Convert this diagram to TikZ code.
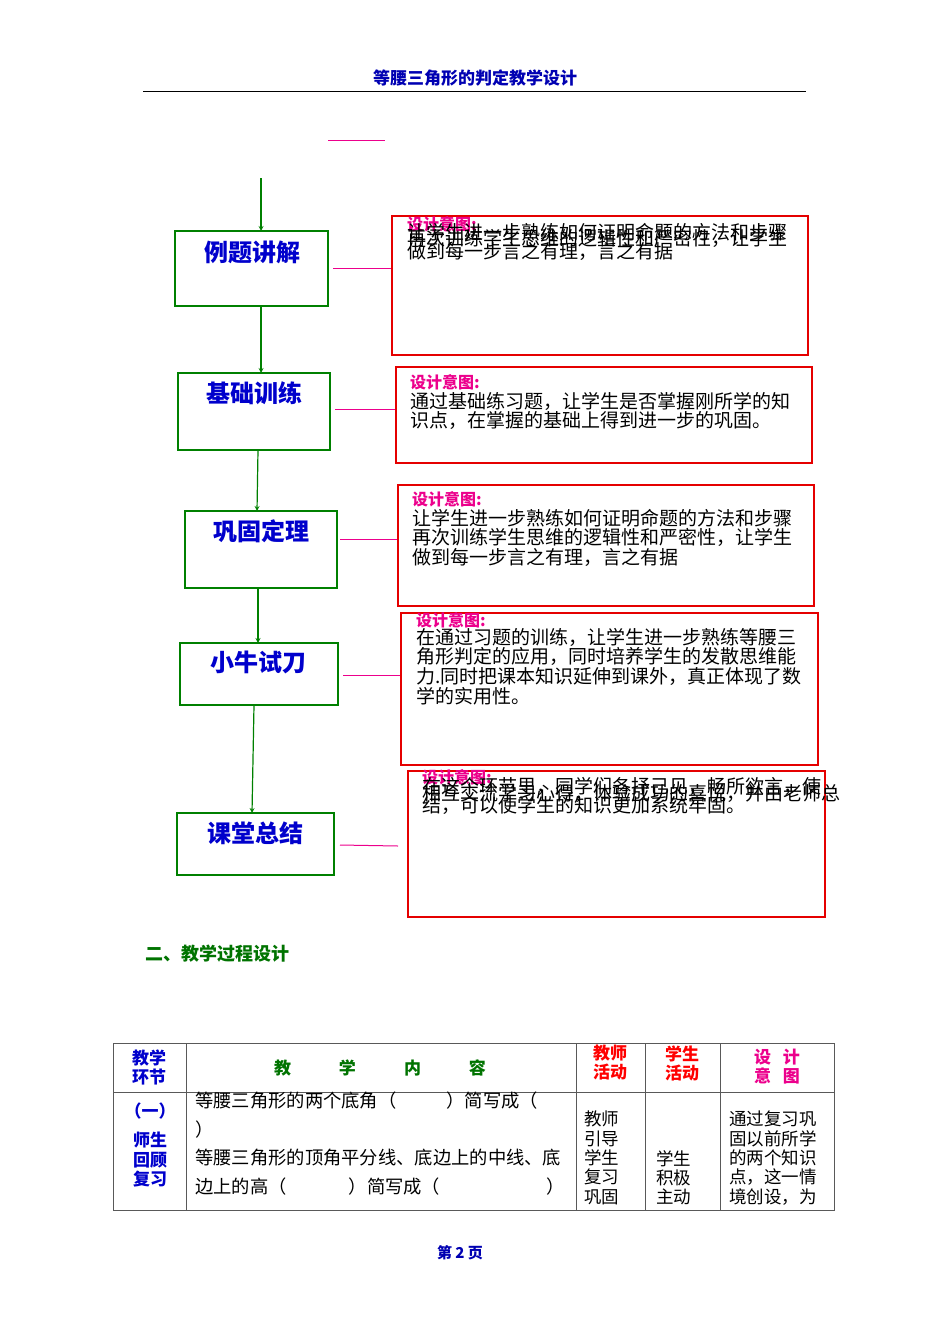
\documentclass[tikz,border=0pt]{standalone}
\usepackage{fontspec}
\setmainfont{Noto Sans CJK SC}
\newfontfamily\cjk{Noto Sans CJK SC}
\begin{document}
\begin{tikzpicture}[x=1pt,y=-1pt,
 flow/.style={draw=green!50!black,line width=1.6pt},
 flowtxt/.style={text=blue!80!black,font=\fontsize{24}{24}\selectfont\bfseries},
 arr/.style={draw=green!50!black,line width=1.2pt,-stealth},
 mag/.style={draw=magenta,line width=1pt},
 rbox/.style={draw=red!90!black,line width=1.6pt},
 lbl/.style={anchor=north west,inner sep=0pt,text=magenta,font=\fontsize{16}{16}\selectfont\bfseries},
 body/.style={anchor=north west,inner sep=0pt,align=left,font=\fontsize{19}{19.6}\selectfont},
 cell/.style={inner sep=0pt,align=center,font=\fontsize{17}{19}\selectfont},
 grid/.style={draw=gray!70!black,line width=0.9pt}]
\useasboundingbox (0,0) rectangle (950,1344);
\node[text=blue!70!black,font=\fontsize{17}{17}\selectfont\bfseries] (hd) at (475,78) {等腰三角形的判定教学设计};
\draw[line width=0.9pt] (143,91) coordinate (h1) -- (806,91) coordinate (h2);
\draw[mag] (328,140) coordinate (m1) -- (385,140) coordinate (m2);
% flow boxes
\draw[flow] (175,231) rectangle (328,306);
\node[flowtxt] (n1) at (252,252) {例题讲解};
\draw[flow] (178,373) rectangle (330,450);
\node[flowtxt] (n2) at (254,393) {基础训练};
\draw[flow] (185,511) rectangle (337,588);
\node[flowtxt] (n3) at (261,531) {巩固定理};
\draw[flow] (180,643) rectangle (338,705);
\node[flowtxt] (n4) at (258,662) {小牛试刀};
\draw[flow] (177,813) rectangle (334,875);
\node[flowtxt] (n5) at (255,833) {课堂总结};
\coordinate (a0) at (261,178);
\draw[arr] (a0) -- (261,231);
\draw[arr] (261,306) -- (261,373);
\draw[arr] (258,450) -- (257,511);
\draw[arr] (258,588) -- (258,643);
\draw[arr] (254,705) -- (252,813);
\draw[mag] (333,268) -- (392,268);
\draw[mag] (335,409) -- (396,409);
\draw[mag] (340,539) -- (398,539);
\draw[mag] (343,675) -- (401,675);
\draw[mag] (340,845) -- (398,846);
% red boxes
\draw[rbox] (392,216) rectangle (808,355);
\node[lbl] (l1) at (407,216) {设计意图:};
\node[body] (b1a) at (407,223) {让学生进一步熟练如何证明命题的方法和步骤\\做到每一步言之有理，言之有据};
\node[body] (b1b) at (407,229) {再次训练学生思维的逻辑性和严密性，让学生};
\draw[rbox] (396,367) rectangle (812,463);
\node[lbl] (l2) at (410,374) {设计意图:};
\node[body] (b2) at (410,392) {通过基础练习题，让学生是否掌握刚所学的知\\识点，在掌握的基础上得到进一步的巩固。};
\draw[rbox] (398,485) rectangle (814,606);
\node[lbl] (l3) at (412,491) {设计意图:};
\node[body] (b3) at (412,509) {让学生进一步熟练如何证明命题的方法和步骤\\再次训练学生思维的逻辑性和严密性，让学生\\做到每一步言之有理，言之有据};
\draw[rbox] (401,613) rectangle (818,765);
\node[lbl] (l4) at (416,612) {设计意图:};
\node[body] (b4) at (416,628) {在通过习题的训练，让学生进一步熟练等腰三\\角形判定的应用，同时培养学生的发散思维能\\力.同时把课本知识延伸到课外，真正体现了数\\学的实用性。};
\draw[rbox] (408,771) rectangle (825,917);
\node[lbl] (l5) at (422,769) {设计意图:};
\node[body] (b5a) at (422,777) {在这个环节里，同学们各抒己见，畅所欲言，使\\结，可以使学生的知识更加系统牢固。};
\node[body] (b5b) at (422,784) {相互交流学习心得，体验成功的喜悦，并由老师总};
\node[text=green!45!black,anchor=west,inner sep=0pt,font=\fontsize{18}{18}\selectfont\bfseries] (sec) at (145,954) {二、教学过程设计};
% table
\draw[grid] (113,1043) rectangle (834,1210);
\draw[grid] (113,1092) -- (834,1092);
\foreach \x in {186,576,645,720} \draw[grid] (\x,1043) -- (\x,1210);
\node[cell,text=blue!80!black,font=\fontsize{17}{19}\selectfont\bfseries] (t1) at (149,1067) {教学\\环节};
\node[cell,text=green!45!black,font=\fontsize{17}{17}\selectfont\bfseries] (t2) at (380,1068) {教\hspace{48pt}学\hspace{48pt}内\hspace{48pt}容};
\node[cell,text=red,font=\fontsize{17}{19}\selectfont\bfseries] (t3) at (610,1063) {教师\\活动};
\node[cell,text=red,font=\fontsize{17}{19}\selectfont\bfseries] (t4) at (682,1063) {学生\\活动};
\node[cell,text=magenta,font=\fontsize{17}{19}\selectfont\bfseries] (t5) at (777,1067) {设\hspace{12pt}计\\意\hspace{12pt}图};
\node[cell,text=blue!80!black,font=\fontsize{17}{19.5}\selectfont\bfseries] (c1) at (150,1145) {（一）\\[10pt]师生\\回顾\\复习};
\node[body,font=\fontsize{18.3}{28.5}\selectfont] (c2) at (195,1092) {等腰三角形的两个底角（\hspace{50pt}）简写成（\\）\\等腰三角形的顶角平分线、底边上的中线、底\\边上的高（\hspace{62pt}）简写成（\hspace{106pt}）};
\node[body,font=\fontsize{17.5}{19.3}\selectfont] (c3) at (584,1111) {教师\\引导\\学生\\复习\\巩固};
\node[body,font=\fontsize{17.5}{19.3}\selectfont] (c4) at (656,1150) {学生\\积极\\主动};
\node[body,font=\fontsize{17.5}{19.3}\selectfont] (c5) at (729,1111) {通过复习巩\\固以前所学\\的两个知识\\点，这一情\\境创设，为};
\node[font=\fontsize{15}{15}\selectfont\bfseries,text=blue!70!black] (ft) at (460,1253) {第 \textit{2} 页};
\end{tikzpicture}
\end{document}
